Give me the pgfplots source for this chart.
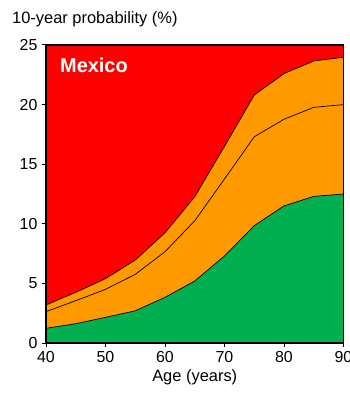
\documentclass[border=0pt]{standalone}
\usepackage{pgfplots}
\pgfplotsset{compat=1.18}
\usepackage{fontspec}
\setmainfont{Liberation Sans}
\definecolor{cred}{RGB}{255,0,0}
\definecolor{corange}{RGB}{255,153,0}
\definecolor{cgreen}{RGB}{0,176,80}
\pgfplotstableread{
x green mid top
40 1.23 2.63 3.19
45 1.62 3.55 4.25
50 2.15 4.50 5.40
55 2.70 5.76 6.96
60 3.83 7.66 9.25
65 5.20 10.25 12.27
70 7.30 13.76 16.50
75 9.84 17.30 20.80
80 11.50 18.77 22.60
85 12.30 19.77 23.66
90 12.50 20.00 23.97
}\datatable
\begin{document}
\begin{tikzpicture}
\begin{axis}[name=ax,
  scale only axis, width=297.5bp, height=298bp,
  xmin=40, xmax=90, ymin=0, ymax=25,
  xtick={40,50,...,90}, ytick={0,5,...,25},
  axis background/.style={fill=cred},
  axis line style={line width=1.3bp},
  tick align=outside, major tick length=4bp,
  xtick pos=bottom, ytick pos=left,
  tick style={line width=1bp, black},
  /pgf/number format/assume math mode=true,
  tick label style={font=\fontsize{16}{18}\selectfont},
  xticklabel style={yshift=-1bp},
  yticklabel style={xshift=-1bp},
  axis on top,
  clip=true,
]
\addplot[fill=corange, draw=none] table[x=x,y=top]{\datatable} \closedcycle;
\addplot[fill=cgreen, draw=none] table[x=x,y=green]{\datatable} \closedcycle;
\addplot[black, line width=0.7bp, no marks] table[x=x,y=top]{\datatable};
\addplot[black, line width=0.7bp, no marks] table[x=x,y=mid]{\datatable};
\addplot[black, line width=0.7bp, no marks] table[x=x,y=green]{\datatable};
\end{axis}
\node[anchor=base west, text=white, font=\fontsize{20}{24}\selectfont\bfseries, inner sep=0pt]
  at ([shift={(14bp,-27bp)}]ax.north west) {Mexico};
\node[anchor=base west, font=\fontsize{16.5}{19}\selectfont, inner sep=0pt]
  at ([shift={(-34bp,21bp)}]ax.north west) {10-year probability (\%)};
\node[anchor=base, font=\fontsize{16.5}{19}\selectfont, inner sep=0pt]
  at ([shift={(0bp,-38.7bp)}]ax.south) {Age (years)};
\pgfresetboundingbox
\path[use as bounding box] ([shift={(-46bp,-51bp)}]ax.south west) rectangle ([shift={(6.5bp,45bp)}]ax.north east);
\end{tikzpicture}
\end{document}
